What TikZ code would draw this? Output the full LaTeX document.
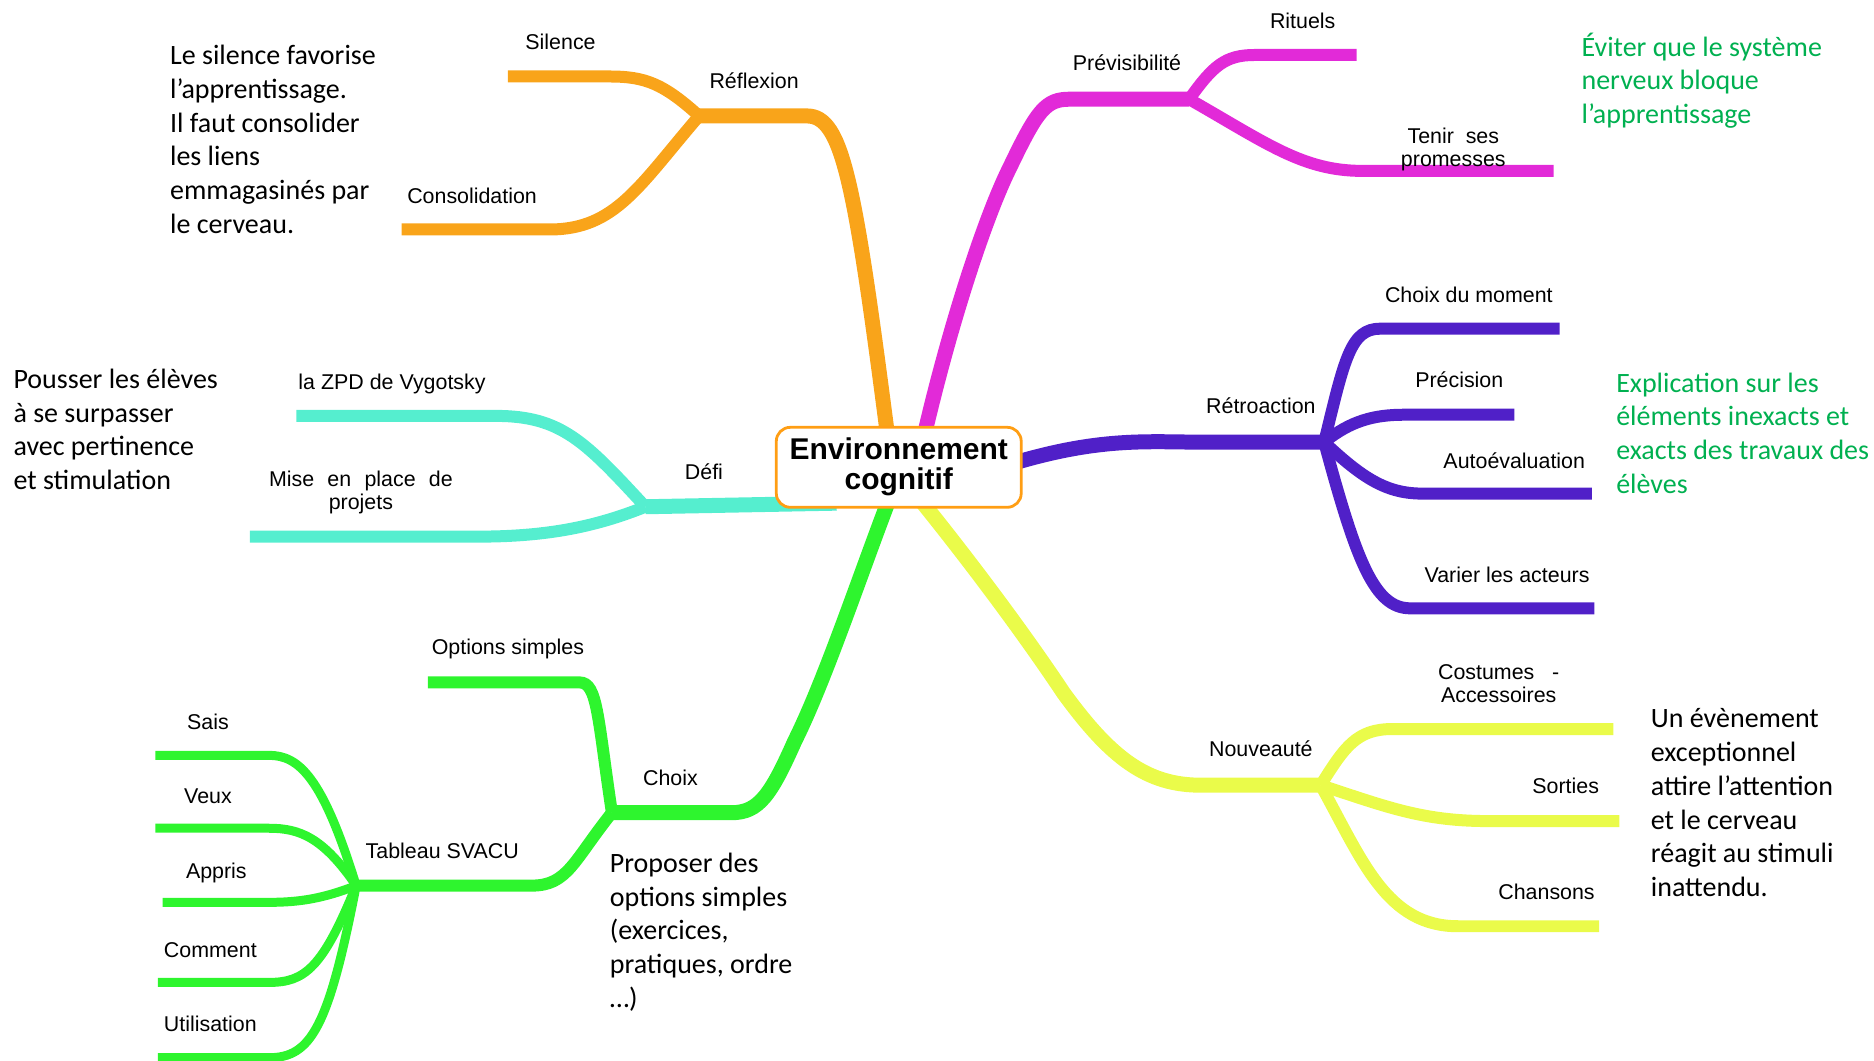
\documentclass[tikz,border=0pt]{standalone}
\usepackage{fontspec}
\setmainfont{Liberation Sans}
\newfontfamily\calibri{Carlito}
\definecolor{cOr}{RGB}{249,164,26}
\definecolor{cMa}{RGB}{226,42,216}
\definecolor{cPu}{RGB}{80,32,200}
\definecolor{cCy}{RGB}{85,238,207}
\definecolor{cGr}{RGB}{46,245,46}
\definecolor{cYe}{RGB}{234,251,74}
\definecolor{cNote}{RGB}{0,176,80}
\definecolor{cHub}{RGB}{255,158,20}
\begin{document}
\begin{tikzpicture}[x=0.5977pt,y=-0.5977pt,
  lab/.style={font=\fontsize{10.7}{11.4}\selectfont, inner sep=0pt, anchor=base},
  lab2/.style={font=\fontsize{10.7}{11.4}\selectfont, inner sep=0pt, anchor=center, align=center},
  note/.style={font=\calibri\fontsize{14}{16.85}\selectfont, inner sep=0pt, anchor=north west, align=left},
  mainbr/.style={line width=7.5pt, line cap=butt},
  subbr/.style={line width=6pt, line cap=butt},
  leafbr/.style={line width=4.5pt, line cap=butt},
  hub/.style={draw=cHub, line width=1.4pt, fill=white, rounded corners=7pt,
    minimum width=122.5pt, minimum height=40pt, inner sep=0pt, align=center,
    font=\bfseries\fontsize{15}{15}\selectfont}]
\useasboundingbox (0,0) rectangle (1568,887);

% ---------- junction and end coordinates ----------
\coordinate (sO) at (744,375);
\coordinate (sM) at (772,370);
\coordinate (sP) at (840,390);
\coordinate (sC) at (700,421);
\coordinate (sG) at (745,415);
\coordinate (sY) at (765,412);

\coordinate (jRefl) at (585,97);
\coordinate (jPrev) at (995,83);
\coordinate (jRetr) at (1108,370);
\coordinate (jDefi) at (540,424);
\coordinate (jChoix) at (512,680);
\coordinate (jSvacu) at (298,741);
\coordinate (jNouv) at (1105,657);

\coordinate (eSilence) at (425,64);
\coordinate (eConsol) at (336,192);
\coordinate (eRituels) at (1135,46);
\coordinate (eTenir) at (1300,143);
\coordinate (eMoment) at (1305,275);
\coordinate (ePrecis) at (1267,347);
\coordinate (eAuto) at (1332,413);
\coordinate (eVarier) at (1334,509);
\coordinate (eZPD) at (248,348);
\coordinate (eMise) at (209,449);
\coordinate (eOptions) at (358,571);
\coordinate (eSais) at (130,632);
\coordinate (eVeux) at (130,693);
\coordinate (eAppris) at (136,755);
\coordinate (eComment) at (132,822);
\coordinate (eUtil) at (132,885);
\coordinate (eCost) at (1350,610);
\coordinate (eSorties) at (1355,687);
\coordinate (eChansons) at (1338,775);

% ---------- orange : Réflexion ----------
\draw[mainbr,cOr] (sO) .. controls (715,150) and (705,97) .. (675,97) -- (jRefl);
\draw[subbr,cOr] (jRefl) .. controls (555,70) and (540,64) .. (510,64) -- (eSilence);
\draw[subbr,cOr] (jRefl) .. controls (535,155) and (515,192) .. (460,192) -- (eConsol);

% ---------- magenta : Prévisibilité ----------
\draw[mainbr,cMa] (sM) .. controls (795,270) and (825,180) .. (845,140)
  .. controls (868,92) and (875,83) .. (895,83) -- (jPrev);
\draw[subbr,cMa] (jPrev) .. controls (1015,55) and (1025,46) .. (1050,46) -- (eRituels);
\draw[subbr,cMa] (jPrev) .. controls (1060,120) and (1090,143) .. (1140,143) -- (eTenir);

% ---------- purple : Rétroaction ----------
\draw[mainbr,cPu] (sP) .. controls (920,365) and (960,370) .. (1010,370) -- (jRetr);
\draw[subbr,cPu] (jRetr) .. controls (1125,300) and (1130,275) .. (1155,275) -- (eMoment);
\draw[subbr,cPu] (jRetr) .. controls (1130,352) and (1150,347) .. (1175,347) -- (ePrecis);
\draw[subbr,cPu] (jRetr) .. controls (1140,400) and (1160,413) .. (1190,413) -- (eAuto);
\draw[subbr,cPu] (jRetr) .. controls (1135,470) and (1150,509) .. (1180,509) -- (eVarier);

% ---------- cyan : Défi ----------
\draw[mainbr,cCy] (sC) -- (jDefi);
\draw[subbr,cCy] (jDefi) .. controls (490,370) and (470,348) .. (415,348) -- (eZPD);
\draw[subbr,cCy] (jDefi) .. controls (500,440) and (460,449) .. (400,449) -- (eMise);

% ---------- green : Choix ----------
\draw[mainbr,cGr] (sG) .. controls (720,480) and (690,570) .. (665,620)
  .. controls (645,665) and (635,680) .. (612,680) -- (jChoix);
\draw[subbr,cGr] (jChoix) .. controls (500,600) and (500,571) .. (485,571) -- (eOptions);
\draw[subbr,cGr] (jChoix) .. controls (480,720) and (475,741) .. (445,741) -- (jSvacu);
\draw[leafbr,cGr] (jSvacu) .. controls (270,650) and (250,632) .. (225,632) -- (eSais);
\draw[leafbr,cGr] (jSvacu) .. controls (270,700) and (250,693) .. (225,693) -- (eVeux);
\draw[leafbr,cGr] (jSvacu) .. controls (270,752) and (250,755) .. (225,755) -- (eAppris);
\draw[leafbr,cGr] (jSvacu) .. controls (270,810) and (255,822) .. (225,822) -- (eComment);
\draw[leafbr,cGr] (jSvacu) .. controls (275,860) and (260,885) .. (225,885) -- (eUtil);

% ---------- yellow : Nouveauté ----------
\draw[mainbr,cYe] (sY) .. controls (800,455) and (850,520) .. (890,580)
  .. controls (930,635) and (960,657) .. (1005,657) -- (jNouv);
\draw[subbr,cYe] (jNouv) .. controls (1125,625) and (1135,610) .. (1165,610) -- (eCost);
\draw[subbr,cYe] (jNouv) .. controls (1160,675) and (1190,687) .. (1245,687) -- (eSorties);
\draw[subbr,cYe] (jNouv) .. controls (1140,720) and (1160,775) .. (1220,775) -- (eChansons);

% ---------- hub ----------
\node[hub] (env) at (752,391) {Environnement\\cognitif};

% ---------- labels ----------
\node[lab] (lSilence) at (469,41) {Silence};
\node[lab] (lRefl) at (631,74) {Réflexion};
\node[lab] (lConsol) at (395,170) {Consolidation};
\node[lab] (lPrev) at (943,59) {Prévisibilité};
\node[lab] (lRituels) at (1090,24) {Rituels};
\node[lab2] (lTenir) at (1216,125) {Tenir\ \ ses\\promesses};
\node[lab] (lRetr) at (1055,346) {Rétroaction};
\node[lab] (lMoment) at (1229,253) {Choix du moment};
\node[lab] (lPrecis) at (1221,324) {Précision};
\node[lab] (lAuto) at (1267,392) {Autoévaluation};
\node[lab] (lVarier) at (1261,487) {Varier les acteurs};
\node[lab] (lDefi) at (589,401) {Défi};
\node[lab] (lZPD) at (328,326) {la ZPD de Vygotsky};
\node[lab2] (lMise) at (302,412) {Mise\hspace{0.62em}en\hspace{0.62em}place\hspace{0.62em}de\\projets};
\node[lab] (lOptions) at (425,548) {Options simples};
\node[lab] (lChoix) at (561,657) {Choix};
\node[lab] (lSvacu) at (370,718) {Tableau SVACU};
\node[lab] (lSais) at (174,610) {Sais};
\node[lab] (lVeux) at (174,672) {Veux};
\node[lab] (lAppris) at (181,735) {Appris};
\node[lab] (lComment) at (176,801) {Comment};
\node[lab] (lUtil) at (176,863) {Utilisation};
\node[lab] (lNouv) at (1055,633) {Nouveauté};
\node[lab2] (lCost) at (1254,572) {Costumes\ \ \ -\\Accessoires};
\node[lab] (lSorties) at (1310,664) {Sorties};
\node[lab] (lChansons) at (1294,753) {Chansons};

% ---------- notes ----------
\node[note] (nSilence) at (142,34) {\strut Le silence favorise\\l’apprentissage.\\Il faut consolider\\les liens\\emmagasinés par\\le cerveau.};
\node[note] (nPousser) at (11,305) {\strut Pousser les élèves\\à se surpasser\\avec pertinence\\et stimulation};
\node[note,text=cNote] (nEviter) at (1323,27) {\strut Éviter que le système\\nerveux bloque\\l’apprentissage};
\node[note,text=cNote] (nExpl) at (1352,308) {\strut Explication sur les\\éléments inexacts et\\exacts des travaux des\\élèves};
\node[note] (nEvent) at (1381,589) {\strut Un évènement\\exceptionnel\\attire l’attention\\et le cerveau\\réagit au stimuli\\inattendu.};
\node[note] (nProposer) at (510,710) {\strut Proposer des\\options simples\\(exercices,\\pratiques, ordre\\…)};
\end{tikzpicture}
\end{document}
